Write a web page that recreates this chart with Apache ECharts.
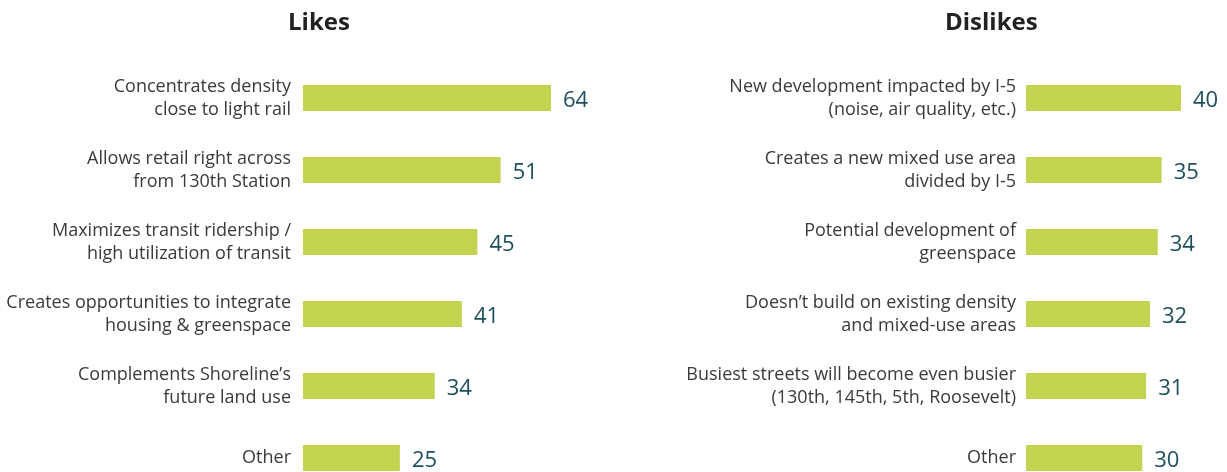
<!DOCTYPE html>
<html><head><meta charset="utf-8">
<script src="https://cdn.jsdelivr.net/npm/echarts@6/dist/echarts.min.js"></script>
<style>html,body{margin:0;padding:0;background:#fff}#c{width:1227px;height:472px}</style>
</head><body><div id="c"></div>
<script>
const likesCategories = [
  "Concentrates density\nclose to light rail",
  "Allows retail right across\nfrom 130th Station",
  "Maximizes transit ridership /\nhigh utilization of transit",
  "Creates opportunities to integrate\nhousing & greenspace",
  "Complements Shoreline’s\nfuture land use",
  "Other"
];
const likesValues = [64, 51, 45, 41, 34, 25];
const dislikesCategories = [
  "New development impacted by I-5\n(noise, air quality, etc.)",
  "Creates a new mixed use area\ndivided by I-5",
  "Potential development of\ngreenspace",
  "Doesn’t build on existing density\nand mixed-use areas",
  "Busiest streets will become even busier\n(130th, 145th, 5th, Roosevelt)",
  "Other"
];
const dislikesValues = [40, 35, 34, 32, 31, 30];

const FONT = "'Open Sans', sans-serif";
const chart = echarts.init(document.getElementById('c'), null, {renderer: 'canvas'});
function yAxis(idx, cats, margin) {
  return {
    type: 'category', gridIndex: idx, data: cats, inverse: true,
    axisLine: {show: false}, axisTick: {show: false}, splitLine: {show: false},
    axisLabel: {color: '#3a3a3a', fontSize: 18, fontFamily: FONT, lineHeight: 23, margin: margin, align: 'right', padding: [4, 0, 0, 0]}
  };
}
function xAxis(idx, max) {
  return {type: 'value', gridIndex: idx, min: 0, max: max, show: false};
}
function series(idx, vals) {
  return {
    type: 'bar', xAxisIndex: idx, yAxisIndex: idx, data: vals, barWidth: 26,
    itemStyle: {color: '#c3d350'},
    label: {show: true, position: 'right', distance: 12, color: '#1d4f5e', fontSize: 22, fontFamily: FONT, offset: [0, 3]},
    silent: true
  };
}
chart.setOption({
  animation: false,
  backgroundColor: '#ffffff',
  title: [
    {text: 'Likes', left: 283, top: 6, textStyle: {fontSize: 24, fontWeight: 'bold', color: '#222', fontFamily: FONT}},
    {text: 'Dislikes', left: 940, top: 6, textStyle: {fontSize: 24, fontWeight: 'bold', color: '#222', fontFamily: FONT}}
  ],
  grid: [
    {left: 303, top: 62, width: 310, height: 432, containLabel: false, outerBoundsMode: 'none'},
    {left: 1026, top: 62, width: 193.75, height: 432, containLabel: false, outerBoundsMode: 'none'}
  ],
  xAxis: [xAxis(0, 80), xAxis(1, 50)],
  yAxis: [yAxis(0, likesCategories, 12), yAxis(1, dislikesCategories, 10)],
  series: [series(0, likesValues), series(1, dislikesValues)]
});
</script></body></html>
